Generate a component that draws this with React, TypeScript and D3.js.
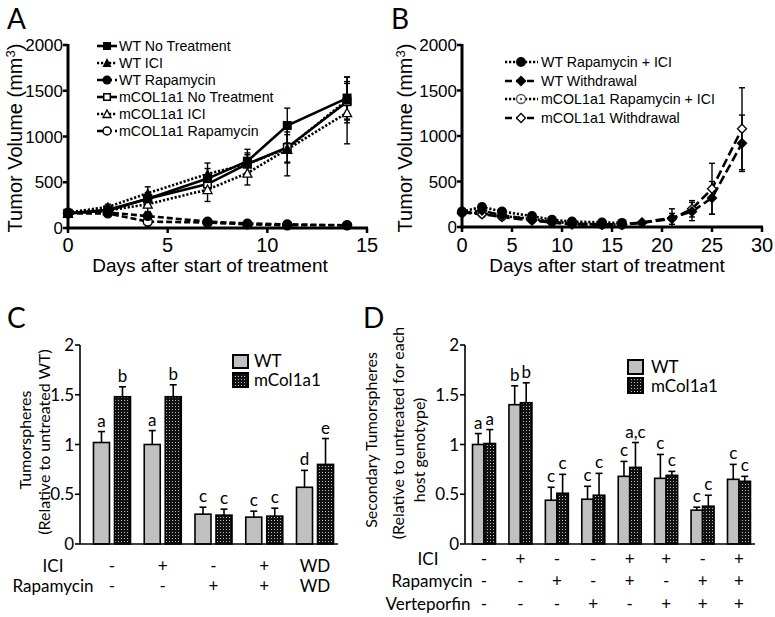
import React from 'react';
import * as d3 from 'd3';

// ---------- Panel A data ----------
const daysA = [0, 2, 4, 7, 9, 11, 14];
const wtNoTx = [160, 190, 320, 540, 730, 1120, 1420];
const wtNoTxErr = [20, 30, 60, 110, 130, 190, 230];
const wtICI = [170, 230, 380, 590, 700, 870, 1400];
const wtICIErr = [20, 30, 70, 120, 100, 150, 250];
const wtRapa = [170, 170, 130, 70, 50, 40, 30];
const wtRapaErr = [20, 20, 40, 20, 15, 10, 10];
const mNoTx = [160, 200, 320, 480, 700, 880, 1380];
const mNoTxErr = [20, 30, 60, 100, 120, 170, 200];
const mICI = [160, 190, 260, 420, 600, 860, 1260];
const mICIErr = [20, 30, 80, 130, 130, 290, 340];
const mRapa = [160, 160, 70, 60, 40, 30, 30];
const mRapaErr = [20, 20, 60, 20, 15, 10, 10];
const legendA = ['WT No Treatment', 'WT ICI', 'WT Rapamycin', 'mCOL1a1 No Treatment', 'mCOL1a1 ICI', 'mCOL1a1 Rapamycin'];

// ---------- Panel B data ----------
const daysRapaB = [0, 2, 4, 7, 9, 11, 14, 16];
const daysWdB = [0, 2, 4, 7, 9, 11, 14, 16, 18, 21, 23, 25, 28];
const wtRapaIci = [170, 220, 170, 120, 80, 60, 50, 45];
const wtRapaIciErr = [20, 30, 30, 20, 15, 10, 10, 10];
const mRapaIci = [160, 150, 120, 90, 60, 40, 30, 25];
const mRapaIciErr = [20, 30, 25, 20, 15, 10, 10, 10];
const wtWd = [150, 180, 130, 80, 50, 30, 30, 30, 50, 100, 170, 320, 920];
const wtWdErr = [20, 30, 30, 20, 15, 10, 10, 10, 15, 100, 100, 180, 310];
const mWd = [160, 140, 110, 70, 50, 30, 25, 25, 45, 90, 200, 420, 1080];
const mWdErr = [20, 25, 25, 20, 15, 10, 10, 10, 15, 60, 90, 280, 450];
const legendB = ['WT Rapamycin + ICI', 'WT Withdrawal', 'mCOL1a1 Rapamycin + ICI', 'mCOL1a1 Withdrawal'];

const ticksA_y = [0, 500, 1000, 1500, 2000];
const ticksA_x = [0, 5, 10, 15];
const ticksB_x = [0, 5, 10, 15, 20, 25, 30];

// ---------- Panel C data ----------
const groupsC = [0, 1, 2, 3, 4];
const wtC = [1.02, 1.0, 0.3, 0.27, 0.57];
const wtCErr = [0.11, 0.14, 0.07, 0.06, 0.17];
const mC = [1.48, 1.48, 0.29, 0.28, 0.8];
const mCErr = [0.1, 0.12, 0.06, 0.08, 0.26];
const wtCLab = ['a', 'a', 'c', 'c', 'd'];
const mCLab = ['b', 'b', 'c', 'c', 'e'];
const iciC = ['-', '+', '-', '+', 'WD'];
const rapaC = ['-', '-', '+', '+', 'WD'];

// ---------- Panel D data ----------
const groupsD = [0, 1, 2, 3, 4, 5, 6, 7];
const wtD = [1.0, 1.4, 0.44, 0.45, 0.68, 0.66, 0.34, 0.65];
const wtDErr = [0.11, 0.19, 0.13, 0.13, 0.15, 0.24, 0.03, 0.15];
const mD = [1.01, 1.42, 0.51, 0.49, 0.77, 0.69, 0.38, 0.63];
const mDErr = [0.14, 0.2, 0.19, 0.22, 0.25, 0.04, 0.11, 0.05];
const wtDLab = ['a', 'b', 'c', 'c', 'c', 'c', 'c', 'c'];
const mDLab = ['a', 'b', 'c', 'c', 'a,c', 'c', 'c', 'c'];
const iciD = ['-', '+', '-', '-', '+', '+', '-', '+'];
const rapaD = ['-', '-', '+', '-', '+', '-', '+', '+'];
const vertD = ['-', '-', '-', '+', '-', '+', '+', '+'];
const ticksCD = [0, 0.5, 1, 1.5, 2];

const ARIAL = 'Liberation Sans, Arial, sans-serif';
const CAL = 'Lato, Open Sans, sans-serif';

type MT = 'sq' | 'sqO' | 'tri' | 'triO' | 'circ' | 'circO' | 'circDot' | 'diam' | 'diamO';

function Marker({ t, x, y, s = 4.5 }: { t: MT; x: number; y: number; s?: number }) {
  const k = 'black';
  switch (t) {
    case 'sq':
      return <rect x={x - s} y={y - s} width={2 * s} height={2 * s} fill={k} />;
    case 'sqO':
      return <rect x={x - s + 0.75} y={y - s + 0.75} width={2 * s - 1.5} height={2 * s - 1.5} fill="white" stroke={k} strokeWidth={1.5} />;
    case 'tri':
      return <path d={`M${x},${y - s - 1}L${x + s + 0.5},${y + s}L${x - s - 0.5},${y + s}Z`} fill={k} />;
    case 'triO':
      return <path d={`M${x},${y - s}L${x + s},${y + s - 0.5}L${x - s},${y + s - 0.5}Z`} fill="white" stroke={k} strokeWidth={1.3} />;
    case 'circ':
      return <circle cx={x} cy={y} r={s + 0.5} fill={k} />;
    case 'circO':
      return <circle cx={x} cy={y} r={s} fill="white" stroke={k} strokeWidth={1.5} />;
    case 'circDot':
      return (
        <g>
          <circle cx={x} cy={y} r={s} fill="white" stroke="#555" strokeWidth={1.3} />
          <circle cx={x} cy={y} r={1.2} fill="#555" />
        </g>
      );
    case 'diam':
      return <path d={`M${x},${y - s - 1}L${x + s + 1},${y}L${x},${y + s + 1}L${x - s - 1},${y}Z`} fill={k} />;
    case 'diamO':
      return <path d={`M${x},${y - s}L${x + s},${y}L${x},${y + s}L${x - s},${y}Z`} fill="white" stroke={k} strokeWidth={1.3} />;
  }
  return null;
}

const DOT = '2.2,1.8';
const DASH = '6,3';
const LDASH = '9,4';

export default function App() {
  // ---- Panel A ----
  const xA = d3.scaleLinear().domain([0, 15]).range([68, 367]);
  const yA = d3.scaleLinear().domain([0, 2000]).range([228, 45]);
  const seriesA = [
    { x: daysA, v: wtNoTx, e: wtNoTxErr, m: 'sq' as MT, dash: 'none' },
    { x: daysA, v: wtICI, e: wtICIErr, m: 'tri' as MT, dash: DOT },
    { x: daysA, v: wtRapa, e: wtRapaErr, m: 'circ' as MT, dash: DASH },
    { x: daysA, v: mNoTx, e: mNoTxErr, m: 'sqO' as MT, dash: 'none' },
    { x: daysA, v: mICI, e: mICIErr, m: 'triO' as MT, dash: DOT },
    { x: daysA, v: mRapa, e: mRapaErr, m: 'circO' as MT, dash: DASH },
  ];
  // draw mCOL1a1 series first so WT markers sit on top, as in the figure
  const drawOrderA = [3, 4, 5, 0, 1, 2];
  const lineA = d3.line<[number, number]>().x((d) => xA(d[0])).y((d) => yA(d[1]));

  // ---- Panel B ----
  const xB = d3.scaleLinear().domain([0, 30]).range([462, 762]);
  const yB = d3.scaleLinear().domain([0, 2000]).range([227, 45]);
  const seriesB = [
    { x: daysRapaB, v: wtRapaIci, e: wtRapaIciErr, m: 'circ' as MT, dash: DOT },
    { x: daysWdB, v: wtWd, e: wtWdErr, m: 'diam' as MT, dash: LDASH },
    { x: daysRapaB, v: mRapaIci, e: mRapaIciErr, m: 'circDot' as MT, dash: DOT },
    { x: daysWdB, v: mWd, e: mWdErr, m: 'diamO' as MT, dash: LDASH },
  ];
  const drawOrderB = [2, 3, 0, 1];
  const lineB = d3.line<[number, number]>().x((d) => xB(d[0])).y((d) => yB(d[1]));

  // ---- Panel C ----
  const yC = d3.scaleLinear().domain([0, 2]).range([544, 345]);
  const xC = d3.scaleBand<number>().domain(groupsC).range([86.6, 340.4]).padding(0);
  const subC = d3.scaleBand<string>().domain(['WT', 'm']).range([0, xC.bandwidth()]).paddingInner(0.238).paddingOuter(0.327);

  // ---- Panel D ----
  const yD = d3.scaleLinear().domain([0, 2]).range([544, 345]);
  const xD = d3.scaleBand<number>().domain(groupsD).range([465.8, 757.2]).padding(0);
  const subD = d3.scaleBand<string>().domain(['WT', 'm']).range([0, xD.bandwidth()]).paddingInner(0).paddingOuter(0.584);

  const renderLineChart = (
    series: typeof seriesA,
    order: number[],
    xs: d3.ScaleLinear<number, number>,
    ys: d3.ScaleLinear<number, number>,
    line: d3.Line<[number, number]>,
    ms: number
  ) => (
    <g>
      {order.map((i) => {
        const s = series[i];
        return (
          <g key={'e' + i}>
            {s.x.map((d, j) => {
              const cx = xs(d);
              const y1 = ys(s.v[j] + s.e[j]);
              const y2 = ys(Math.max(0, s.v[j] - s.e[j]));
              return (
                <g key={j} stroke="black" strokeWidth={1.4}>
                  <line x1={cx} x2={cx} y1={y1} y2={y2} />
                  <line x1={cx - 3} x2={cx + 3} y1={y1} y2={y1} />
                  <line x1={cx - 3} x2={cx + 3} y1={y2} y2={y2} />
                </g>
              );
            })}
          </g>
        );
      })}
      {order.map((i) => {
        const s = series[i];
        return (
          <path
            key={'l' + i}
            d={line(s.x.map((d, j) => [d, s.v[j]] as [number, number])) || ''}
            fill="none"
            stroke="black"
            strokeWidth={2.6}
            strokeDasharray={s.dash}
          />
        );
      })}
      {order.map((i) => {
        const s = series[i];
        return (
          <g key={'m' + i}>
            {s.x.map((d, j) => (
              <Marker key={j} t={s.m} x={xs(d)} y={ys(s.v[j])} s={ms} />
            ))}
          </g>
        );
      })}
    </g>
  );

  const legendRowsA = [46, 63, 80, 97, 114, 131];
  const legendRowsB = [62, 81, 99, 118];

  const bar = (
    gx: number,
    v: number,
    e: number,
    w: number,
    ys: d3.ScaleLinear<number, number>,
    fill: string,
    lab: string,
    key: string
  ) => {
    const top = ys(v);
    const cap = ys(v + e);
    const cx = gx + w / 2;
    return (
      <g key={key}>
        <line x1={cx} x2={cx} y1={top} y2={cap} stroke="black" strokeWidth={1.6} />
        <line x1={cx - 3.5} x2={cx + 3.5} y1={cap} y2={cap} stroke="black" strokeWidth={1.6} />
        <rect x={gx} y={top} width={w} height={ys(0) - top} fill={fill} stroke="black" strokeWidth={1.6} />
        <text x={cx} y={cap - 5} textAnchor="middle" fontFamily={CAL} fontSize={17}>
          {lab}
        </text>
      </g>
    );
  };

  return (
    <svg width={775} height={617} style={{ position: 'absolute', left: 0, top: 0, background: 'white' }}>
      <defs>
        <pattern id="dots" width={3} height={3} patternUnits="userSpaceOnUse">
          <rect width={3} height={3} fill="#111" />
          <rect x={1} y={1} width={1} height={1} fill="#bbb" />
        </pattern>
      </defs>
      <rect width={775} height={617} fill="white" />

      {/* Panel letters */}
      <text x={7} y={29} fontFamily={CAL} fontSize={28}>A</text>
      <text x={391} y={29} fontFamily={CAL} fontSize={28}>B</text>
      <text x={7} y={328} fontFamily={CAL} fontSize={28}>C</text>
      <text x={363} y={328} fontFamily={CAL} fontSize={28}>D</text>

      {/* ===== Panel A ===== */}
      {renderLineChart(seriesA, drawOrderA, xA, yA, lineA, 4.5)}
      <g stroke="black" strokeWidth={3}>
        <line x1={xA(0)} x2={xA(0)} y1={yA(2000) - 1} y2={yA(0) + 1.5} />
        <line x1={xA(0) - 1.5} x2={xA(15) + 1} y1={yA(0)} y2={yA(0)} />
        {ticksA_y.map((t) => (
          <line key={t} x1={xA(0) - 5} x2={xA(0)} y1={yA(t)} y2={yA(t)} strokeWidth={2.5} />
        ))}
        {ticksA_x.map((t) => (
          <line key={t} x1={xA(t)} x2={xA(t)} y1={yA(0)} y2={yA(0) + 5} strokeWidth={2.5} />
        ))}
      </g>
      {ticksA_y.map((t) => (
        <text key={t} x={63} y={yA(t)} dy="0.36em" textAnchor="end" fontFamily={ARIAL} fontSize={17}>
          {t}
        </text>
      ))}
      {ticksA_x.map((t) => (
        <text key={t} x={xA(t)} y={252} textAnchor="middle" fontFamily={ARIAL} fontSize={20}>
          {t}
        </text>
      ))}
      <text x={210} y={272} textAnchor="middle" fontFamily={ARIAL} fontSize={19}>
        Days after start of treatment
      </text>
      <text transform="translate(22,138) rotate(-90)" textAnchor="middle" fontFamily={ARIAL} fontSize={20}>
        Tumor Volume (mm<tspan fontSize={13} dy={-7}>3</tspan><tspan dy={7}>)</tspan>
      </text>
      {seriesA.map((s, i) => (
        <g key={'la' + i}>
          <line x1={97} x2={117} y1={legendRowsA[i]} y2={legendRowsA[i]} stroke="black" strokeWidth={2.6} strokeDasharray={s.dash} />
          <Marker t={s.m} x={107} y={legendRowsA[i]} s={4} />
          <text x={119} y={legendRowsA[i]} dy="0.36em" fontFamily={ARIAL} fontSize={14.2}>
            {legendA[i]}
          </text>
        </g>
      ))}

      {/* ===== Panel B ===== */}
      {renderLineChart(seriesB, drawOrderB, xB, yB, lineB, 4.5)}
      <g stroke="black" strokeWidth={3}>
        <line x1={xB(0)} x2={xB(0)} y1={yB(2000) - 1} y2={yB(0) + 1.5} />
        <line x1={xB(0) - 1.5} x2={xB(30) + 1} y1={yB(0)} y2={yB(0)} />
        {ticksA_y.map((t) => (
          <line key={t} x1={xB(0) - 5} x2={xB(0)} y1={yB(t)} y2={yB(t)} strokeWidth={2.5} />
        ))}
        {ticksB_x.map((t) => (
          <line key={t} x1={xB(t)} x2={xB(t)} y1={yB(0)} y2={yB(0) + 5} strokeWidth={2.5} />
        ))}
      </g>
      {ticksA_y.map((t) => (
        <text key={t} x={457} y={yB(t)} dy="0.36em" textAnchor="end" fontFamily={ARIAL} fontSize={17}>
          {t}
        </text>
      ))}
      {ticksB_x.map((t) => (
        <text key={t} x={xB(t)} y={252} textAnchor="middle" fontFamily={ARIAL} fontSize={20}>
          {t}
        </text>
      ))}
      <text x={607} y={272} textAnchor="middle" fontFamily={ARIAL} fontSize={19}>
        Days after start of treatment
      </text>
      <text transform="translate(412,138) rotate(-90)" textAnchor="middle" fontFamily={ARIAL} fontSize={20}>
        Tumor Volume (mm<tspan fontSize={13} dy={-7}>3</tspan><tspan dy={7}>)</tspan>
      </text>
      {seriesB.map((s, i) => (
        <g key={'lb' + i}>
          <line x1={505} x2={538} y1={legendRowsB[i]} y2={legendRowsB[i]} stroke="black" strokeWidth={2.6} strokeDasharray={s.dash === LDASH ? '7,4' : DOT} />
          <Marker t={s.m} x={521} y={legendRowsB[i]} s={4.5} />
          <text x={541} y={legendRowsB[i]} dy="0.36em" fontFamily={ARIAL} fontSize={14.2}>
            {legendB[i]}
          </text>
        </g>
      ))}

      {/* ===== Panel C ===== */}
      {groupsC.map((g) => (
        <g key={'c' + g}>
          {bar(xC(g)! + subC('WT')!, wtC[g], wtCErr[g], subC.bandwidth(), yC, '#c0c0c0', wtCLab[g], 'w')}
          {bar(xC(g)! + subC('m')!, mC[g], mCErr[g], subC.bandwidth(), yC, 'url(#dots)', mCLab[g], 'm')}
          <text x={xC(g)! + xC.bandwidth() / 2} y={572} textAnchor="middle" fontFamily={CAL} fontSize={17}>{iciC[g]}</text>
          <text x={xC(g)! + xC.bandwidth() / 2} y={592} textAnchor="middle" fontFamily={CAL} fontSize={17}>{rapaC[g]}</text>
        </g>
      ))}
      <g stroke="black" strokeWidth={1.6}>
        <line x1={80} x2={80} y1={yC(2)} y2={yC(0)} />
        <line x1={80} x2={338} y1={yC(0)} y2={yC(0)} />
        {ticksCD.map((t) => (
          <line key={t} x1={75} x2={80} y1={yC(t)} y2={yC(t)} />
        ))}
      </g>
      {ticksCD.map((t) => (
        <text key={t} x={74} y={yC(t)} dy="0.36em" textAnchor="end" fontFamily={CAL} fontSize={17}>
          {t}
        </text>
      ))}
      <text x={53} y={572} textAnchor="middle" fontFamily={CAL} fontSize={17}>ICI</text>
      <text x={53} y={592} textAnchor="middle" fontFamily={CAL} fontSize={17}>Rapamycin</text>
      <text transform="translate(31,440) rotate(-90)" textAnchor="middle" fontFamily={CAL} fontSize={16}>Tumorspheres</text>
      <text transform="translate(50,442) rotate(-90)" textAnchor="middle" fontFamily={CAL} fontSize={16}>(Relative to untreated WT)</text>
      <rect x={233} y={355} width={15} height={13} fill="#c0c0c0" stroke="black" strokeWidth={2} />
      <rect x={233} y={373} width={15} height={14} fill="url(#dots)" stroke="black" strokeWidth={2} />
      <text x={254} y={367} fontFamily={CAL} fontSize={17}>WT</text>
      <text x={254} y={386} fontFamily={CAL} fontSize={17}>mCol1a1</text>

      {/* ===== Panel D ===== */}
      {groupsD.map((g) => (
        <g key={'d' + g}>
          {bar(xD(g)! + subD('WT')!, wtD[g], wtDErr[g], subD.bandwidth(), yD, '#c0c0c0', wtDLab[g], 'w')}
          {bar(xD(g)! + subD('m')!, mD[g], mDErr[g], subD.bandwidth(), yD, 'url(#dots)', mDLab[g], 'm')}
          <text x={xD(g)! + xD.bandwidth() / 2} y={565} textAnchor="middle" fontFamily={CAL} fontSize={17}>{iciD[g]}</text>
          <text x={xD(g)! + xD.bandwidth() / 2} y={587} textAnchor="middle" fontFamily={CAL} fontSize={17}>{rapaD[g]}</text>
          <text x={xD(g)! + xD.bandwidth() / 2} y={610} textAnchor="middle" fontFamily={CAL} fontSize={17}>{vertD[g]}</text>
        </g>
      ))}
      <g stroke="black" strokeWidth={1.6}>
        <line x1={465} x2={465} y1={yD(2)} y2={yD(0)} />
        <line x1={465} x2={755} y1={yD(0)} y2={yD(0)} />
        {ticksCD.map((t) => (
          <line key={t} x1={460} x2={465} y1={yD(t)} y2={yD(t)} />
        ))}
      </g>
      {ticksCD.map((t) => (
        <text key={t} x={459} y={yD(t)} dy="0.36em" textAnchor="end" fontFamily={CAL} fontSize={17}>
          {t}
        </text>
      ))}
      <text x={428} y={565} textAnchor="middle" fontFamily={CAL} fontSize={17}>ICI</text>
      <text x={432} y={587} textAnchor="middle" fontFamily={CAL} fontSize={17}>Rapamycin</text>
      <text x={428} y={610} textAnchor="middle" fontFamily={CAL} fontSize={17}>Verteporfin</text>
      <text transform="translate(377,440) rotate(-90)" textAnchor="middle" fontFamily={CAL} fontSize={16}>Secondary Tumorspheres</text>
      <text transform="translate(404,433) rotate(-90)" textAnchor="middle" fontFamily={CAL} fontSize={16}>(Relative to untreated for each</text>
      <text transform="translate(425,450) rotate(-90)" textAnchor="middle" fontFamily={CAL} fontSize={16}>host genotype)</text>
      <rect x={628} y={360} width={15} height={14} fill="#c0c0c0" stroke="black" strokeWidth={2} />
      <rect x={628} y={378} width={15} height={15} fill="url(#dots)" stroke="black" strokeWidth={2} />
      <text x={651} y={373} fontFamily={CAL} fontSize={17}>WT</text>
      <text x={651} y={392} fontFamily={CAL} fontSize={17}>mCol1a1</text>
    </svg>
  );
}
